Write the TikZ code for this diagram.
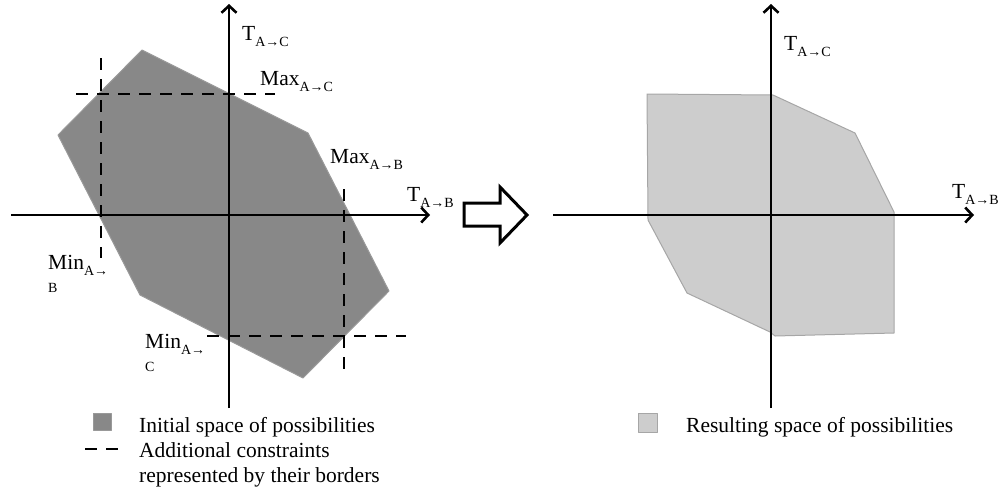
\documentclass[tikz,border=0pt]{standalone}
\usepackage{fontspec}
\setmainfont{Liberation Serif}
\usetikzlibrary{arrows.meta}
\definecolor{initgray}{RGB}{136,136,136}
\definecolor{resgray}{RGB}{205,205,205}
\newcommand{\subtxt}[1]{\raisebox{-6pt}{\fontsize{14}{16}\selectfont #1}}

\begin{document}
\begin{tikzpicture}
[x=1pt, y=-1pt,
axis/.style={line width=2.6pt, -{Straight Barb[length=7pt,width=15pt,line width=2.6pt]}},
border/.style={line width=2.8pt, dash pattern=on 12pt off 9pt},
tag/.style={anchor=base west, inner sep=0pt, align=left, font=\fontsize{21.5}{24}\selectfont},
initial/.style={fill=initgray, draw=gray!80, line width=1pt, line join=round},
result/.style={fill=resgray, draw=gray!70, line width=1pt, line join=round},
hollow/.style={draw=black, line width=3pt, fill=white, line join=miter}]
\useasboundingbox (0,0) rectangle (1000,493);

% left panel
\coordinate (xl0) at (11,215);
\coordinate (xl1) at (430,215);
\coordinate (yl0) at (229,408);
\coordinate (yl1) at (229,4);
\filldraw[initial] (142,50) -- (308,133) -- (389,291) -- (303,378) -- (140,295) -- (58,135) -- cycle;
\coordinate (maxc0) at (76,94);
\coordinate (maxc1) at (275,94);
\coordinate (minc0) at (207,336);
\coordinate (minc1) at (406,336);
\coordinate (minb0) at (101,58);
\coordinate (minb1) at (101,258);
\coordinate (maxb0) at (344,189);
\coordinate (maxb1) at (344,374);
\draw[border] (maxc0) -- (maxc1);
\draw[border] (minc0) -- (minc1);
\draw[border] (minb0) -- (minb1);
\draw[border] (maxb0) -- (maxb1);
\draw[axis] (xl0) -- (xl1);
\draw[axis] (yl0) -- (yl1);
\node[tag] (tcl) at (242,40) {T\subtxt{A→C}};
\node[tag] (tbl) at (407,201) {T\subtxt{A→B}};
\node[tag] (maxc) at (260,85) {Max\subtxt{A→C}};
\node[tag] (maxb) at (330,163) {Max\subtxt{A→B}};
% multi-line tags sit on their last baseline
\node[tag] (minb) at (48,292) {Min\subtxt{A→}\\[-1pt]\fontsize{14}{16}\selectfont B};
\node[tag] (minc) at (145,371) {Min\subtxt{A→}\\[-1pt]\fontsize{14}{16}\selectfont C};

% legend left
\filldraw[initial] (93,413) rectangle (111,430);
\draw[border] (85,449) -- (118,449);
\node[tag] (leginit) at (139,432) {Initial space of possibilities};
\node[tag] (legcons) at (139,482) {Additional constraints\\[1pt]represented by their borders};

% transition
\draw[hollow] (464,203) -- (500,203) -- (500,187) -- (527,215) -- (500,243) -- (500,226) -- (464,226) -- cycle;

% right panel
\coordinate (xr0) at (553,215);
\coordinate (xr1) at (974,215);
\coordinate (yr0) at (771,408);
\coordinate (yr1) at (771,4);
\filldraw[result] (647,94) -- (773,95) -- (855,133) -- (894,212) -- (894,333) -- (775,336) -- (770,332) -- (687,293) -- (648,220) -- cycle;
\draw[axis] (xr0) -- (xr1);
\draw[axis] (yr0) -- (yr1);
\node[tag] (tcr) at (784,50) {T\subtxt{A→C}};
\node[tag] (tbr) at (952,198) {T\subtxt{A→B}};

% legend right
\filldraw[result] (638,413) rectangle (657,432);
\node[tag] (legres) at (686,432) {Resulting space of possibilities};
\end{tikzpicture}
\end{document}
